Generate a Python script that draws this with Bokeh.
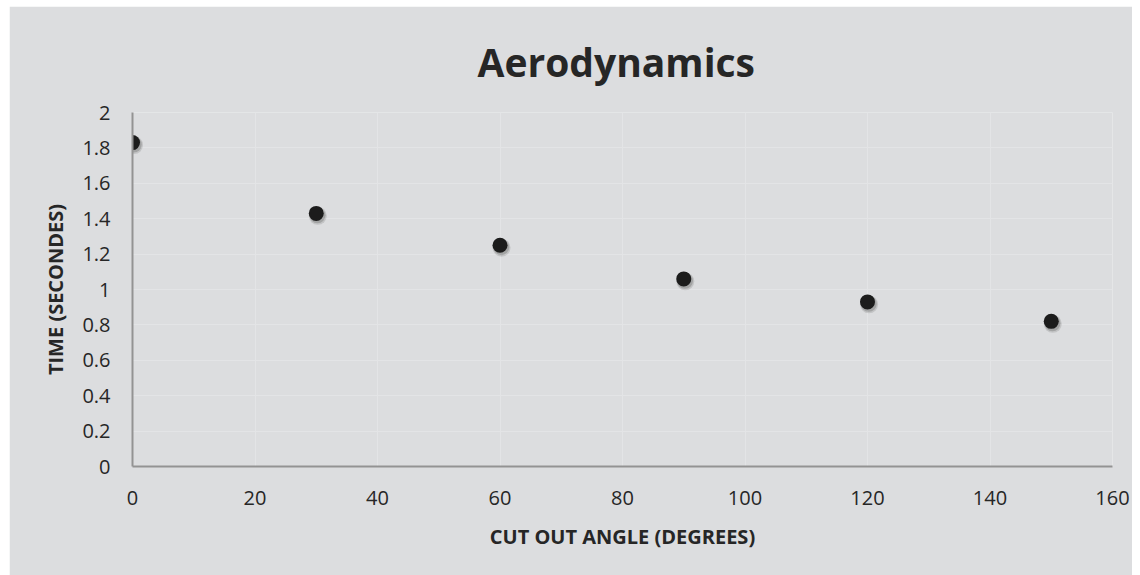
from bokeh.plotting import figure
from bokeh.models import Range1d, FixedTicker
from bokeh.transform import dodge
from bokeh.embed import file_html
from bokeh.resources import INLINE

# ---- data ----
angles = [0, 30, 60, 90, 120, 150]
times = [1.83, 1.43, 1.25, 1.06, 0.93, 0.82]
x_ticks = [0, 20, 40, 60, 80, 100, 120, 140, 160]
y_ticks = [0, 0.2, 0.4, 0.6, 0.8, 1.0, 1.2, 1.4, 1.6, 1.8, 2.0]
y_tick_labels = ["0", "0.2", "0.4", "0.6", "0.8", "1", "1.2", "1.4", "1.6", "1.8", "2"]
title_text = "Aerodynamics"
x_label = "CUT OUT ANGLE (DEGREES)"
y_label = "TIME (SECONDES)"

BG = "#dcdddf"
GRID = "#e3e4e6"
AXIS = "#939393"
TXT = "#262626"
FONT = "Open Sans"

p = figure(width=1123, height=569, output_backend="svg", toolbar_location=None,
           x_range=Range1d(0, 160), y_range=Range1d(0, 2),
           min_border_left=123, min_border_right=20, min_border_top=106, min_border_bottom=109)
p.margin = (6, 0, 0, 9)
p.background_fill_color = BG
p.border_fill_color = BG
p.outline_line_color = None

p.title.text = title_text
p.title.text_font = FONT
p.title.text_font_style = "bold"
p.title.text_font_size = "39px"
p.title.text_color = TXT
p.title.align = "left"
p.title.offset = 345
p.title.standoff = 50

for ax in (p.xaxis[0], p.yaxis[0]):
    ax.major_tick_line_color = None
    ax.minor_tick_line_color = None
    ax.axis_line_color = AXIS
    ax.axis_line_width = 2
    ax.major_label_text_font = FONT
    ax.major_label_text_font_size = "20px"
    ax.major_label_text_color = TXT
    ax.axis_label_text_font = FONT
    ax.axis_label_text_font_size = "20px"
    ax.axis_label_text_font_style = "bold"
    ax.axis_label_text_color = TXT

p.xaxis.ticker = FixedTicker(ticks=x_ticks)
p.yaxis.ticker = FixedTicker(ticks=y_ticks)
p.yaxis.major_label_overrides = {t: l for t, l in zip(y_ticks, y_tick_labels)}
p.xaxis.axis_label = x_label
p.yaxis.axis_label = y_label
p.xaxis.major_label_standoff = 18
p.xaxis.axis_label_standoff = 15
p.yaxis.major_label_standoff = 16
p.yaxis.axis_label_standoff = 10

p.xgrid.ticker = FixedTicker(ticks=x_ticks)
p.ygrid.ticker = FixedTicker(ticks=y_ticks)
p.grid.grid_line_color = GRID
p.grid.grid_line_width = 1

src = dict(x=angles, y=times)
# soft drop shadow
p.scatter(x=dodge("x", 0.25, range=p.x_range), y=dodge("y", -0.014, range=p.y_range),
          source=src, size=18, color="#555555", alpha=0.18, line_color=None)
p.scatter(x=dodge("x", 0.2, range=p.x_range), y=dodge("y", -0.011, range=p.y_range),
          source=src, size=16, color="#444444", alpha=0.25, line_color=None)
p.scatter(x="x", y="y", source=src, size=15, color="#1c1c1c", line_color=None)

open("out.html", "w").write(file_html(p, INLINE))
